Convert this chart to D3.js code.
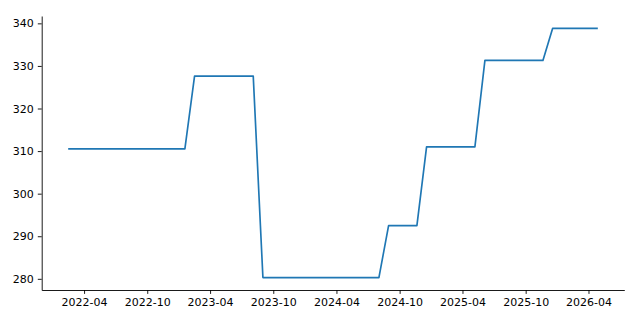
<!DOCTYPE html>
<html>
<head>
<meta charset="utf-8">
<script src="https://cdn.jsdelivr.net/npm/d3@7"></script>
<style>
    body { margin: 0; background: #fff; }
    svg { display: block; }
    .tick text { font-family: "DejaVu Sans", sans-serif; font-size: 11px; fill: #000; }
</style>
</head>
<body>
<div id="chart"></div>
<script>
// Breakpoints of the series (date, value)
const dates = ["2022-02-14", "2023-01-18", "2023-02-15", "2023-08-04", "2023-09-01",
               "2024-08-02", "2024-08-30", "2024-11-20", "2024-12-18", "2025-05-07",
               "2025-06-05", "2025-11-20", "2025-12-18", "2026-04-28"];
const values = [310.5, 310.5, 327.6, 327.6, 280.3,
                280.3, 292.5, 292.5, 311.0, 311.0,
                331.3, 331.3, 338.8, 338.8];

// Tick labels
const xTicks = ["2022-04", "2022-10", "2023-04", "2023-10", "2024-04",
                "2024-10", "2025-04", "2025-10", "2026-04"];
const yTicks = [280, 290, 300, 310, 320, 330, 340];

const width = 640, height = 320;
const margin = {top: 16, right: 15.7, bottom: 30, left: 41.7};

const parse = d3.utcParse("%Y-%m-%d");
const parseMonth = d3.utcParse("%Y-%m");
const data = dates.map((d, i) => ({date: parse(d), value: values[i]}));

// matplotlib style 5% padding on both axes
const xExt = d3.extent(data, d => d.date);
const xPad = (xExt[1] - xExt[0]) * 0.05;
const yExt = d3.extent(data, d => d.value);
const yPad = (yExt[1] - yExt[0]) * 0.05;

const x = d3.scaleUtc()
    .domain([new Date(+xExt[0] - xPad), new Date(+xExt[1] + xPad)])
    .range([margin.left, width - margin.right]);

const y = d3.scaleLinear()
    .domain([yExt[0] - yPad, yExt[1] + yPad])
    .range([height - margin.bottom, margin.top]);

const svg = d3.select("#chart").append("svg")
    .attr("width", width)
    .attr("height", height);

// Line
svg.append("path")
    .datum(data)
    .attr("fill", "none")
    .attr("stroke", "#1f77b4")
    .attr("stroke-width", 1.67)
    .attr("stroke-linejoin", "round")
    .attr("d", d3.line().x(d => x(d.date)).y(d => y(d.value)));

// X axis
const xAxis = svg.append("g")
    .attr("transform", "translate(0," + (height - margin.bottom) + ")")
    .call(d3.axisBottom(x)
        .tickValues(xTicks.map(parseMonth))
        .tickFormat(d3.utcFormat("%Y-%m"))
        .tickSizeInner(3.9)
        .tickSizeOuter(0)
        .tickPadding(4));

// Y axis
const yAxis = svg.append("g")
    .attr("transform", "translate(" + margin.left + ",0)")
    .call(d3.axisLeft(y)
        .tickValues(yTicks)
        .tickSizeInner(3.9)
        .tickSizeOuter(0)
        .tickPadding(4));

// Spines and ticks in matplotlib black
svg.selectAll(".domain").attr("stroke", "#000").attr("stroke-width", 0.9);
svg.selectAll(".tick line").attr("stroke", "#000").attr("stroke-width", 0.9);
</script>
</body>
</html>
